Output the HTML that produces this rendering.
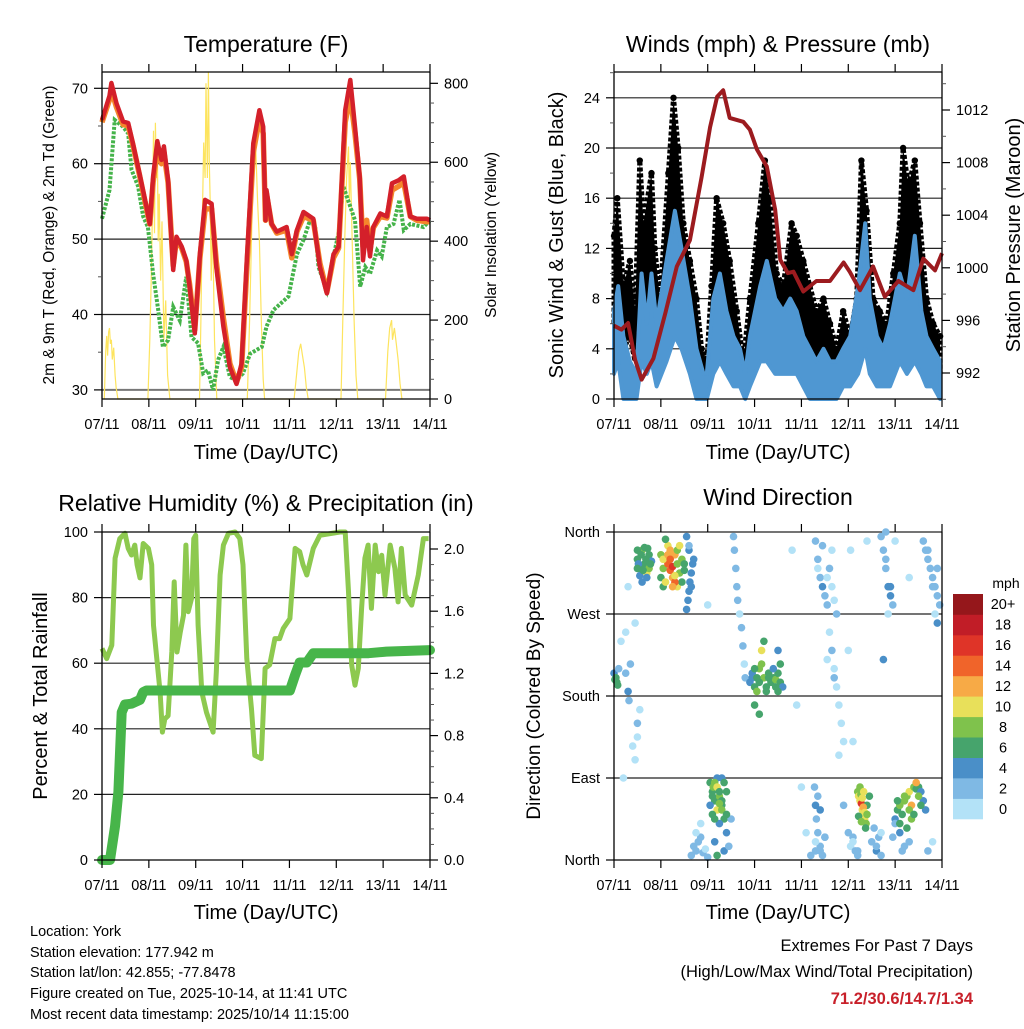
<!DOCTYPE html>
<html><head><meta charset="utf-8"><style>
body{margin:0;background:#fff}
svg text{font-family:"Liberation Sans",Arial,sans-serif;fill:#000}
</style></head><body>
<svg id="c" width="1024" height="1024" viewBox="0 0 1024 1024" xmlns="http://www.w3.org/2000/svg">
<g id="layer"></g>
<text x="266" y="52" font-size="23" text-anchor="middle">Temperature (F)</text>
<text x="778" y="52" font-size="23" text-anchor="middle">Winds (mph) &amp; Pressure (mb)</text>
<text x="266" y="511" font-size="23" text-anchor="middle">Relative Humidity (%) &amp; Precipitation (in)</text>
<text x="778" y="505" font-size="23" text-anchor="middle">Wind Direction</text>
<text transform="translate(54,235) rotate(-90)" font-size="15.5" text-anchor="middle">2m &amp; 9m T (Red, Orange) &amp; 2m Td (Green)</text>
<text transform="translate(496,235) rotate(-90)" font-size="15.5" text-anchor="middle">Solar Insolation (Yellow)</text>
<text transform="translate(563,235) rotate(-90)" font-size="20" text-anchor="middle">Sonic Wind &amp; Gust (Blue, Black)</text>
<text transform="translate(1020,235) rotate(-90)" font-size="20" text-anchor="middle">Station Pressure (Maroon)</text>
<text transform="translate(47,696) rotate(-90)" font-size="20" text-anchor="middle">Percent &amp; Total Rainfall</text>
<text transform="translate(540,696) rotate(-90)" font-size="19" text-anchor="middle">Direction (Colored By Speed)</text>
<text x="266" y="459" font-size="20" text-anchor="middle">Time (Day/UTC)</text>
<text x="778" y="459" font-size="20" text-anchor="middle">Time (Day/UTC)</text>
<text x="266" y="919" font-size="20" text-anchor="middle">Time (Day/UTC)</text>
<text x="778" y="919" font-size="20" text-anchor="middle">Time (Day/UTC)</text>
<g font-size="14.5">
<text x="30" y="936">Location: York</text>
<text x="30" y="957">Station elevation: 177.942 m</text>
<text x="30" y="977">Station lat/lon: 42.855; -77.8478</text>
<text x="30" y="998">Figure created on Tue, 2025-10-14, at 11:41 UTC</text>
<text x="30" y="1019">Most recent data timestamp: 2025/10/14 11:15:00</text>
</g>
<g font-size="16.5" text-anchor="end">
<text x="973" y="951">Extremes For Past 7 Days</text>
<text x="973" y="977">(High/Low/Max Wind/Total Precipitation)</text>
<text x="973" y="1004" font-weight="bold" style="fill:#c8202a">71.2/30.6/14.7/1.34</text>
</g>
<text x="1006" y="588" font-size="14" text-anchor="middle">mph</text>
</svg>
<script>
const dayLabels=["07/11","08/11","09/11","10/11","11/11","12/11","13/11","14/11"];
const tT=[0,0.16,0.2,0.31,0.45,0.56,0.66,0.8,0.95,1.02,1.09,1.18,1.27,1.32,1.41,1.52,1.59,1.7,1.8,1.87,1.98,2.09,2.2,2.34,2.44,2.59,2.73,2.87,2.98,3.09,3.23,3.36,3.44,3.49,3.51,3.62,3.73,3.94,4.05,4.16,4.3,4.51,4.65,4.8,4.94,5.05,5.19,5.3,5.4,5.5,5.57,5.65,5.72,5.79,5.94,6.08,6.19,6.33,6.44,6.58,6.72,6.93,7];
const tRed=[65.8,69,70.7,68,65.6,65.4,62.7,58.7,54.3,52,58.3,63,60.5,62.3,57.8,45.9,50.3,49,47.2,43.7,37.5,48,55.2,54.7,46.3,38.4,33,30.8,33.5,47.2,62.7,67.1,64.9,52.5,56.5,52,51,51.6,48,51.2,53.6,52.7,46.3,42.8,48,49,67.1,71.1,64.9,58.3,47.2,51.6,47.7,51.6,53.4,53,57.4,57.8,58.3,53,52.7,52.7,52.5];
const tOrange=[65.5,68.5,69.8,67.5,65.2,65,62.5,58.5,54,52,57.5,62,60,61.5,57.5,46.5,50,48.8,47,44,38,47.5,54,54,47,39.5,33.5,31,33,46,61.5,66,64,52.5,56,52,50.8,51.2,47.5,51,53,52.5,46.8,43,47.5,48.8,65.5,69,64,58,49,52.5,48.5,51.5,53,52.8,56.5,57,57.5,53,52.5,52.3,52.3];
const tdT=[0,0.16,0.27,0.45,0.56,0.63,0.77,0.88,0.98,1.09,1.2,1.3,1.41,1.52,1.66,1.8,1.91,2.05,2.16,2.26,2.37,2.48,2.59,2.73,2.87,3.01,3.16,3.41,3.51,3.66,3.98,4.16,4.3,4.44,4.55,4.62,4.8,4.94,5.05,5.15,5.3,5.4,5.51,5.62,5.72,5.87,5.97,6.08,6.22,6.35,6.44,6.58,6.86,7];
const tdV=[52.7,56.5,65.8,64.9,64,59.2,57,53,51.6,45.4,40.6,35.7,36.6,41,39.2,45,37,36.2,32.2,32.6,30,34,35.7,31.7,31.3,32.2,34.8,35.7,38.4,40.6,42.4,48,49.9,52.5,51.6,46.3,43.2,47.7,50.8,57,54.3,52.5,43.7,46.3,45.4,48.5,47.7,51.6,52,55.2,51.2,52,51.6,52.5];
const solT=[0.05,0.08,0.1,0.12,0.14,0.16,0.18,0.2,0.22,0.25,0.28,0.3,0.34,0.98,1.02,1.05,1.08,1.1,1.12,1.14,1.16,1.18,1.2,1.22,1.25,1.28,1.32,1.36,1.4,1.45,2.08,2.11,2.14,2.17,2.2,2.22,2.25,2.27,2.29,2.31,2.33,2.36,2.4,2.45,3.1,3.15,3.2,3.24,3.28,3.32,3.36,3.4,3.44,3.47,4.1,4.15,4.2,4.24,4.28,4.32,4.36,4.4,5.1,5.14,5.18,5.22,5.26,5.28,5.3,5.34,5.38,5.42,5.46,6.05,6.1,6.14,6.18,6.2,6.24,6.28,6.32,6.36,6.4];
const solV=[0,120,160,110,170,180,140,150,100,130,60,30,0,0,150,300,500,680,420,700,560,650,400,520,300,450,150,250,60,0,0,200,450,650,560,800,560,830,600,500,300,450,150,0,0,200,450,620,640,500,400,200,50,0,0,60,120,140,110,80,30,0,0,200,400,560,640,500,600,400,200,60,0,0,120,180,200,150,180,140,100,40,0];
const prT2=[0,0.16,0.3,0.45,0.59,0.84,1.1,1.34,1.62,1.87,2.05,2.2,2.33,2.47,2.76,2.9,3.05,3.26,3.44,3.55,3.71,3.83,4.04,4.32,4.61,4.9,5.03,5.25,5.53,5.78,6.07,6.39,6.6,6.85,7.0];
const prV2=[995.6,995.3,995.8,993,991.5,993.1,996.6,1000.1,1002.1,1006.9,1010.7,1013,1013.5,1011.4,1011.1,1010.5,1009,1007.7,1004.4,1000.6,999.6,999.7,998.2,999,999,1000.4,999.7,998.3,1000.1,997.8,999,998.3,1000.7,999.8,1001.1];
const windT=[0,0.09,0.2,0.34,0.48,0.59,0.7,0.8,0.91,1.12,1.3,1.44,1.62,1.76,1.91,1.98,2.12,2.26,2.4,2.55,2.69,2.8,2.9,3.12,3.26,3.44,3.61,3.76,3.9,4.04,4.18,4.32,4.47,4.61,4.75,4.89,5.04,5.21,5.36,5.46,5.61,5.75,5.89,6.1,6.25,6.42,6.56,6.67,6.81,6.96];
const windHi=[7,9,5,3,2,10,6,10,6,11,15,12,8,4,2,2,8,10,7,5,4,2,5,9,11,8,7,8,7,5,4,3,4,3,3,4,5,9,14,8,5,4,6,10,8,13,7,5,4,3];
const windLo=[2,3,0,0,0,3,2,3,1,3,5,4,2,0,0,0,2,3,2,1,1,0,1,3,3,2,2,2,2,1,0,0,0,0,0,1,1,2,4,2,1,1,1,3,2,3,2,1,1,0];
const gustT=[0,0.07,0.2,0.34,0.45,0.55,0.63,0.8,0.87,0.98,1.16,1.27,1.37,1.48,1.62,1.76,1.87,1.98,2.08,2.19,2.33,2.47,2.62,2.76,2.9,3.08,3.22,3.33,3.47,3.61,3.79,3.9,4.04,4.18,4.32,4.47,4.61,4.75,4.89,5.04,5.18,5.28,5.39,5.53,5.67,5.82,5.96,6.1,6.17,6.28,6.42,6.53,6.67,6.81,6.96];
const gustHi=[13,16,9,11,7,19,14,18,12,8,18,24,20,14,11,8,4,3,9,16,14,11,7,3,8,14,19,16,10,9,14,13,11,9,7,8,6,4,7,5,8,19,15,8,7,6,10,14,20,17,19,14,8,6,5];
const gustLo=[6,8,4,5,3,9,7,9,6,4,9,12,10,7,5,4,2,1,4,8,7,5,3,1,4,7,9,8,5,4,7,6,5,4,3,4,3,2,3,2,4,9,7,4,3,3,5,7,10,8,9,7,4,3,2];
const rhT=[0,0.1,0.21,0.28,0.38,0.49,0.56,0.63,0.7,0.75,0.81,0.88,0.99,1.06,1.1,1.17,1.24,1.29,1.34,1.41,1.49,1.54,1.6,1.67,1.74,1.79,1.84,1.91,1.96,2.0,2.05,2.13,2.23,2.3,2.37,2.44,2.52,2.59,2.7,2.84,2.94,3.01,3.09,3.19,3.26,3.4,3.48,3.58,3.69,3.79,3.87,4.01,4.12,4.22,4.29,4.37,4.51,4.65,5.08,5.19,5.26,5.33,5.4,5.47,5.54,5.61,5.68,5.75,5.83,5.9,5.97,6.04,6.15,6.25,6.32,6.39,6.47,6.61,6.75,6.86,6.97];
const rhV=[64.5,61.4,65.5,92,98,99.6,95,93,96,90,86,96.5,95,90,71.6,61.4,51.2,39,43,44,63.4,84.8,63.4,69.5,74.6,96,75.7,79.7,98,99,71.6,51.2,45,42,39,57.3,86.9,96,99.6,100,98,90,61.4,46,31.9,30.9,58.4,59.5,67.5,67.5,70.6,73.6,95,94,90,86.9,95,99,100,100,81.8,59.4,53.3,58.4,76.7,92,96,76.7,96,87.9,92.9,80.8,96,88.9,78.7,95,80.8,77.7,86.9,98,98,96,98];
const pcT=[0,0.17,0.28,0.35,0.42,0.49,0.63,0.81,0.88,0.95,4.01,4.12,4.22,4.37,4.51,4.98,5.69,6.07,7.0];
const pcV=[0,0,0.22,0.44,0.95,1.0,1.005,1.03,1.08,1.09,1.09,1.19,1.27,1.27,1.33,1.33,1.33,1.34,1.35];
const wdT=[0.0,0.02,0.04,0.06,0.08,0.1,0.25,0.3,0.32,0.35, 0.15,0.25,0.4,0.45,0.5,0.5,0.45,0.3,0.2,0.55, 0.5,0.55,0.6,0.65,0.7,0.75,0.8,0.55,0.65,0.75, 1.0,1.05,1.1,1.15,1.2,1.25,1.3,1.35,1.4,1.45, 1.05,1.15,1.2,1.25,1.3,1.35,1.45,1.5,1.6,1.1, 1.55,1.58,1.6,1.62,1.65,1.68,1.7,1.6,1.55,1.65, 1.65,1.7,1.75,1.8,1.85,1.9,1.95,2.0,1.75,1.85, 2.05,2.1,2.12,2.15,2.2,2.25,2.3,2.35,2.4,2.2, 2.1,2.3,2.25,2.4,2.15,2.35,2.2,2.45,2.5,2.3, 2.55,2.57,2.6,2.62,2.64,2.68,2.72,2.75,2.78,2.8, 2.9,2.95,3.0,3.05,3.1,3.15,3.2,3.25,3.3,3.35, 3.4,3.45,3.5,3.55,3.6,3.5,3.55,3.0,3.1,3.2, 4.3,4.35,4.4,4.45,4.5,4.55,4.6,4.65,4.7,4.75, 4.6,4.65,4.7,4.75,4.8,4.85,4.9,4.7,4.8,4.55, 4.28,4.3,4.32,4.35,4.4,4.45,4.5,4.35,4.3,4.4, 5.2,5.22,5.25,5.28,5.3,5.33,5.35,5.38,5.4,5.45, 5.0,5.05,5.1,5.15,5.2,5.5,5.55,5.6,5.65,5.7, 6.0,6.05,6.1,6.15,6.2,6.25,6.3,6.35,6.4,6.45, 6.5,6.55,6.6,6.65,6.3,6.15,6.1,6.2,5.95,6.0, 5.7,5.75,5.8,5.85,5.9,5.95,6.0,5.8,5.85,5.75, 6.6,6.65,6.7,6.75,6.8,6.85,6.9,6.95,6.85,6.9, 3.8,3.9,4.0,4.1,4.9,5.1,5.0,6.3,5.4,2.0, 1.0,1.05,1.1,1.15,1.2,1.25,1.3,1.35,1.4,1.5, 0.5,0.52,0.58,0.62,0.68,0.72,0.78,0.6,0.7,0.5, 2.95,3.0,3.05,3.1,3.15,3.25,3.3,3.4,3.45,3.5, 5.25,5.27,5.3,5.32,5.35,5.22,5.28,5.33,5.37,5.4, 6.05,6.1,6.2,6.3,6.35,6.45,6.5,6.55,6.25,6.4, 2.1,2.15,2.2,2.25,2.3,2.15,2.25,2.35,2.05,2.4, 4.2,4.3,4.4,4.5,5.1,5.2,5.6,5.7,6.7,6.8, 4.35,4.45,4.55,4.65,5.8,5.9,6.7,6.8,6.9,5.05];
const wdD=[205,198,200,195,192,210,205,185,175,215, 240,250,125,110,135,150,260,300,90,165, 330,320,340,325,315,335,328,312,343,320, 310,320,330,325,318,322,335,300,315,305, 300,345,340,310,305,340,330,318,340,352, 275,285,295,305,315,325,330,345,355,300, 5,15,10,20,25,8,12,3,30,40, 85,75,80,65,55,70,60,45,75,90, 50,90,40,30,20,10,5,15,45,65, 355,340,320,300,285,270,255,235,215,200, 195,200,190,185,210,230,200,190,205,195, 200,198,205,195,190,230,215,170,160,240, 350,330,310,300,290,280,320,340,285,270, 250,230,210,190,170,150,130,200,115,220, 80,60,45,30,15,5,25,70,10,55, 75,70,65,62,55,50,45,40,60,70, 30,15,25,10,5,20,35,10,25,5, 45,55,60,50,65,70,75,60,80,78, 80,75,65,55,20,10,30,15,25,40, 355,340,320,300,290,280,350,360,270,220, 350,340,330,320,310,300,290,280,270,260, 340,170,80,30,60,130,230,310,350,280, 335,330,305,335,330,300,312,325,345,325, 340,325,335,318,330,342,325,305,310,320, 205,210,200,195,215,185,200,210,190,185, 80,72,68,58,52,48,42,75,35,50, 65,40,70,55,45,85,70,60,35,50, 70,85,80,62,55,45,75,85,60,50, 5,20,10,25,20,10,15,30,10,20, 320,345,310,300,330,300,340,300,320,340];
const wdS=[4,6,7,6,7,3,3,4,3,2, 1,1,1,1,1,2,1,0,1,1, 6,7,8,6,10,7,5,4,6,8, 7,9,12,14,15,16,13,11,8,7, 6,10,13,12,15,9,8,7,5,6, 4,4,5,4,4,4,5,3,4,5, 2,2,2,2,2,2,1,2,1,1, 6,7,9,6,10,8,7,6,7,4, 6,5,4,4,4,4,6,2,3,7, 2,2,2,2,2,1,2,2,1,2, 4,5,7,8,8,10,9,6,7,6, 7,8,6,7,5,4,6,7,6,6, 2,3,2,4,3,2,2,1,1,2, 1,2,1,1,1,1,1,2,0,1, 3,4,3,2,2,3,2,3,2,4, 8,10,11,16,10,11,10,9,6,7, 2,1,2,2,3,2,3,4,2,2, 5,6,8,7,8,9,10,12,9,6, 7,5,5,4,3,3,4,2,2,3, 2,3,2,4,4,2,1,2,1,4, 2,2,3,2,2,3,2,3,1,4, 1,1,1,1,2,1,1,1,1,1, 8,10,11,12,14,12,10,9,10,6, 6,5,7,6,7,6,6,5,4,7, 5,6,6,7,9,7,6,5,7,6, 9,8,10,12,10,7,9,11,7,8, 6,7,9,8,8,13,8,7,6,7, 7,8,10,9,8,6,7,6,5,6, 2,1,2,2,1,2,2,1,2,1, 1,2,1,1,3,4,2,2,3,1];
const binColors=["#b3e2f7","#7fb9e4","#4a8fc8","#46a46c","#7fc24c","#e8e05a","#f7aa46","#f0642a","#df3428","#c11d27","#95171b"];
const binLabels=["0","2","4","6","8","10","12","14","16","18","20+"];

const NS="http://www.w3.org/2000/svg";
const L=document.getElementById('layer');
function mk(tag,attrs,parent){const e=document.createElementNS(NS,tag);for(const k in attrs)e.setAttribute(k,attrs[k]);(parent||L).appendChild(e);return e;}
function panel(x0,x1,y0,y1){return {x0,x1,y0,y1,x:d=>x0+d*(x1-x0)/7};}
const P1=panel(102,430,72,399),P2=panel(614,942,72,399),P3=panel(102,430,532,860),P4=panel(614,942,532,860);
P1.yl=v=>88.3+(70-v)*7.54; P1.yr=v=>399-v*0.3946;
P2.yl=v=>399-v*12.55; P2.yr=v=>110+(1012-v)*13.15;
P3.yl=v=>860-v*3.28; P3.yr=v=>860-v*155.5;
P4.yl=v=>860-v*0.9111;
function path(P,ts,vs,yf){return ts.map((t,i)=>(i?'L':'M')+P.x(t).toFixed(1)+','+yf(vs[i]).toFixed(1)).join('');}
function band(P,ts,hi,lo,yf){let d=ts.map((t,i)=>(i?'L':'M')+P.x(t).toFixed(1)+','+yf(hi[i]).toFixed(1)).join('');for(let i=ts.length-1;i>=0;i--)d+='L'+P.x(ts[i]).toFixed(1)+','+yf(lo[i]).toFixed(1);return d+'Z';}
function txt(x,y,s,anchor,size){const e=mk('text',{x,y,'text-anchor':anchor,'font-size':size||14});e.textContent=s;return e;}
function timeAxis(P,name,top){
  const g=mk('g',{});
  
  
  dayLabels.forEach((lab,i)=>{const x=P.x(i);
    mk('line',{x1:x,x2:x,y1:P.y1,y2:P.y1+8,stroke:'#000','stroke-width':1.2},g);
    if(top)mk('line',{x1:x,x2:x,y1:P.y0,y2:P.y0-8,stroke:'#000','stroke-width':1.2},g);
    const t=txt(x,P.y1+30,lab,'middle',14.5);g.appendChild(t);});
}
function yAxis(P,side,vals,labels,yf,minor,name){
  const g=mk('g',{});
  
  
  const x=side==='l'?P.x0:P.x1,dir=side==='l'?-1:1;
  vals.forEach((v,i)=>{const y=yf(v);mk('line',{x1:x,x2:x+dir*8,y1:y,y2:y,stroke:'#000','stroke-width':1.2},g);
    g.appendChild(txt(x+dir*14,y+5,labels[i],side==='l'?'end':'start',14.5));});
  (minor||[]).forEach(v=>{const y=yf(v);mk('line',{x1:x,x2:x+dir*4,y1:y,y2:y,stroke:'#555','stroke-width':1},g);});
}
function frame(P,name,noTop){const g=mk('g',{});
  mk('line',{x1:P.x0,x2:P.x0,y1:P.y0,y2:P.y1,stroke:'#000','stroke-width':1.3},g);
  mk('line',{x1:P.x1,x2:P.x1,y1:P.y0,y2:P.y1,stroke:'#000','stroke-width':1.3},g);
  mk('line',{x1:P.x0,x2:P.x1,y1:P.y1,y2:P.y1,stroke:'#000','stroke-width':1.3},g);
  if(!noTop)mk('line',{x1:P.x0,x2:P.x1,y1:P.y0,y2:P.y0,stroke:'#000','stroke-width':1.3},g);}
function grid(P,vals,yf,name,col){const g=mk('g',{});
  vals.forEach(v=>mk('line',{x1:P.x0,x2:P.x1,y1:yf(v),y2:yf(v),stroke:col||'#222','stroke-width':1.2},g));}

grid(P1,[70,60,50,40],P1.yl,'temp-grid');
mk('line',{x1:P1.x0,x2:P1.x1,y1:P1.yl(30),y2:P1.yl(30),stroke:'#777','stroke-width':2});
let e;
e=mk('path',{d:path(P1,solT,solV,P1.yr),fill:'none',stroke:'#fde45e','stroke-width':1.2});

e=mk('path',{d:path(P1,tdT,tdV,P1.yl),fill:'none',stroke:'#45b34a','stroke-width':4,'stroke-dasharray':'3 1.5'});

e=mk('path',{d:path(P1,tT,tOrange,P1.yl),fill:'none',stroke:'#f5862b','stroke-width':5.5,'stroke-linejoin':'round'});

e=mk('path',{d:path(P1,tT,tRed,P1.yl),fill:'none',stroke:'#d4202a','stroke-width':4.5,'stroke-linejoin':'round'});

frame(P1,'temp-frame');
timeAxis(P1,'temp-x-axis',true);
yAxis(P1,'l',[30,40,50,60,70],['30','40','50','60','70'],P1.yl,[35,45,55,65],'temp-y-axis');
yAxis(P1,'r',[0,200,400,600,800],['0','200','400','600','800'],P1.yr,[50,100,150,250,300,350,450,500,550,650,700,750],'solar-y-axis');

grid(P2,[4,8,12,16,20,24],P2.yl,'wind-grid');
e=mk('path',{d:band(P2,gustT,gustHi,gustLo,P2.yl),fill:'#000',stroke:'#000','stroke-width':5,'stroke-linejoin':'round','stroke-dasharray':'4 2'});

gustT.forEach((t,i)=>{const c=mk('circle',{cx:P2.x(t),cy:P2.yl(gustHi[i]),r:3.2,fill:'#000'});
  
  });
e=mk('path',{d:band(P2,windT,windHi,windLo,P2.yl),fill:'#4f97d2',stroke:'#4f97d2','stroke-width':4,'stroke-linejoin':'round'});

e=mk('path',{d:path(P2,prT2,prV2,P2.yr),fill:'none',stroke:'#9c1b1f','stroke-width':4,'stroke-linejoin':'round'});

frame(P2,'wind-frame');
timeAxis(P2,'wind-x-axis',true);
yAxis(P2,'l',[0,4,8,12,16,20,24],['0','4','8','12','16','20','24'],P2.yl,[2,6,10,14,18,22,26],'wind-y-axis');
yAxis(P2,'r',[992,996,1000,1004,1008,1012],['992','996','1000','1004','1008','1012'],P2.yr,[990,994,998,1002,1006,1010,1014],'pressure-y-axis');

grid(P3,[20,40,60,80],P3.yl,'rh-grid');
e=mk('path',{d:path(P3,rhT,rhV,P3.yl),fill:'none',stroke:'#8dc94f','stroke-width':5,'stroke-linejoin':'round'});

e=mk('path',{d:path(P3,pcT,pcV,P3.yr),fill:'none',stroke:'#47b54a','stroke-width':10,'stroke-linejoin':'round','stroke-linecap':'round'});

frame(P3,'rh-frame');
timeAxis(P3,'rh-x-axis',true);
yAxis(P3,'l',[0,20,40,60,80,100],['0','20','40','60','80','100'],P3.yl,[],'rh-y-axis');
yAxis(P3,'r',[0,0.4,0.8,1.2,1.6,2.0],['0.0','0.4','0.8','1.2','1.6','2.0'],P3.yr,[0.1,0.2,0.3,0.5,0.6,0.7,0.9,1.0,1.1,1.3,1.4,1.5,1.7,1.8,1.9],'precip-y-axis');

grid(P4,[360,270,180,90],P4.yl,'direction-grid');
wdT.forEach((t,i)=>{const b=Math.min(10,Math.floor(wdS[i]/2));
  const c=mk('circle',{cx:P4.x(t).toFixed(1),cy:P4.yl(wdD[i]).toFixed(1),r:3.8,fill:binColors[b]});
  
  });
frame(P4,'direction-frame',true);
timeAxis(P4,'direction-x-axis',true);
yAxis(P4,'l',[0,90,180,270,360],['North','East','South','West','North'],P4.yl,[],'direction-y-axis');
const cb=mk('g',{});


const cbTop=594,cbH=225/11;
binColors.forEach((col,i)=>{const y=cbTop+(10-i)*cbH;
  const r=mk('rect',{x:953,y:y.toFixed(1),width:30,height:(cbH+0.3).toFixed(1),fill:col},cb);
  
  
  cb.appendChild(txt(1003,y+cbH/2+5,binLabels[i],'middle',14.5));});
</script>
</body></html>
